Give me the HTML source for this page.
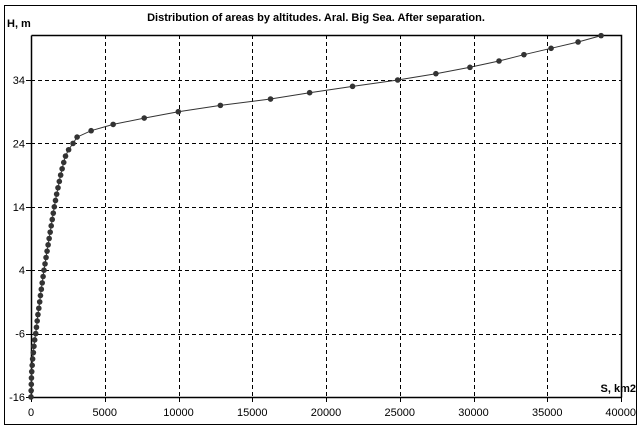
<!DOCTYPE html>
<html><head><meta charset="utf-8"><style>
html,body{margin:0;padding:0;background:#fff;}
svg{display:block;font-family:"Liberation Sans",sans-serif;}
</style></head><body>
<svg id="chart" width="644" height="430" viewBox="0 0 644 430">
<rect x="4.5" y="5.5" width="632" height="419" fill="#fff" stroke="#000"/>
<text x="316" y="21" font-size="11" font-weight="bold" text-anchor="middle">Distribution of areas by altitudes. Aral. Big Sea. After separation.</text>
<text x="7" y="27" font-size="11" font-weight="bold">H, m</text>
<text x="636" y="392" font-size="11" font-weight="bold" text-anchor="end">S, km2</text>
<g id="grid"></g>
<g id="axes"></g>
<g id="series"></g>
</svg>
<script>
const xTicks=[0,5000,10000,15000,20000,25000,30000,35000,40000];
const yTicks=[-16,-6,4,14,24,34];
const H=[-16,-15,-14,-13,-12,-11,-10,-9,-8,-7,-6,-5,-4,-3,-2,-1,0,1,2,3,4,5,6,7,8,9,10,11,12,13,14,15,16,17,18,19,20,21,22,23,24,25,26,27,28,29,30,31,32,33,34,35,36,37,38,39,40,41];
const S=[0,10,20,30,50,80,110,160,200,250,320,370,420,470,530,590,640,700,760,820,880,950,1020,1090,1160,1230,1300,1370,1440,1510,1580,1660,1740,1830,1920,2010,2110,2220,2340,2550,2850,3125,4076,5570,7677,9986,12840,16240,18890,21800,24860,27450,29760,31730,33420,35260,37090,38650];
const X0=31,X1=621,Y0=397,Y1=35,xmin=0,xmax=40000,ymin=-16,ymax=41.1;
const NS='http://www.w3.org/2000/svg';
const sx=v=>X0+(v-xmin)/(xmax-xmin)*(X1-X0);
const sy=v=>Y0-(v-ymin)/(ymax-ymin)*(Y0-Y1);
function mk(tag,attrs,parent){const e=document.createElementNS(NS,tag);for(const k in attrs)e.setAttribute(k,attrs[k]);parent.appendChild(e);return e;}
const grid=document.getElementById('grid'),axes=document.getElementById('axes'),series=document.getElementById('series');
xTicks.forEach(t=>{
  const x=Math.round(sx(t))+0.5;
  if(t>xmin&&t<xmax){const l=mk('line',{x1:x,x2:x,y1:Y1,y2:Y0,stroke:'#000','stroke-dasharray':'4,3'},grid);
  
  }
  const tk=mk('line',{x1:x,x2:x,y1:Y0,y2:Y0+5,stroke:'#000'},axes);
  
  
  const tx=mk('text',{x:sx(t),y:Y0+19,'font-size':11,'text-anchor':t===xmax?'end':'middle'},axes);
  if(t===xmax)tx.setAttribute('x',636);
  tx.textContent=t;
  
  
});
yTicks.forEach(t=>{
  const y=Math.round(sy(t))+0.5;
  if(t>ymin){const l=mk('line',{x1:X0,x2:X1,y1:y,y2:y,stroke:'#000','stroke-dasharray':'4,3'},grid);
  
  }
  const tk=mk('line',{x1:X0-5,x2:X0,y1:y,y2:y,stroke:'#000'},axes);
  
  
  const tx=mk('text',{x:X0-6,y:sy(t)+4,'font-size':11,'text-anchor':'end'},axes);
  tx.textContent=t;
  
  
});
const fr=mk('path',{d:`M${X0+0.5},${Y1+0.5} H${X1+0.5} V${Y0+0.5} M${X0+0.5},${Y1+0.5} V${Y0+0.5} H${X1+0.5}`,fill:'none',stroke:'#000','stroke-width':1.5},axes);


const pts=S.map((s,i)=>sx(s).toFixed(1)+','+sy(H[i]).toFixed(1)).join(' ');
const pl=mk('polyline',{points:pts,fill:'none',stroke:'#333','stroke-width':1},series);


S.forEach((s,i)=>{
  const c=mk('circle',{cx:sx(s),cy:sy(H[i]),r:2.8,fill:'#333'},series);
  
  
});
</script>
</body></html>
